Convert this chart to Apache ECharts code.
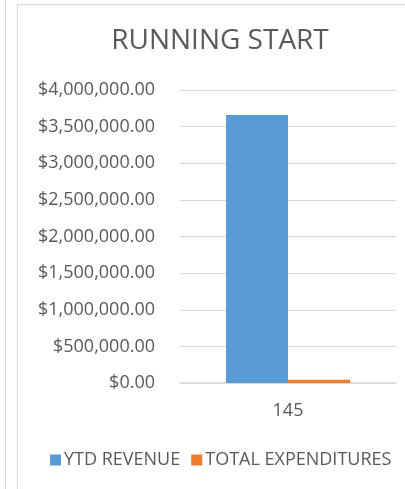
<!DOCTYPE html>
<html>
<head>
<meta charset="utf-8">
<script src="https://cdn.jsdelivr.net/npm/echarts@6/dist/echarts.min.js"></script>
<style>
  html, body { margin: 0; padding: 0; background: #fff; }
  #chart { width: 405px; height: 489px; }
</style>
</head>
<body>
<div id="chart"></div>
<script>
// chart values
const categories = ['145'];
const ytdRevenue = [3660000];
const totalExpenditures = [45000];
const seriesNames = ['YTD REVENUE', 'TOTAL EXPENDITURES'];

const fontFamily = '"Open Sans", "Noto Sans", sans-serif';
const textColor = '#595959';
const lineColor = '#d9d9d9';

const myChart = echarts.init(document.getElementById('chart'));

function money(v) {
    return '$' + v.toLocaleString('en-US', { minimumFractionDigits: 2, maximumFractionDigits: 2 });
}

const option = {
    animation: false,
    title: {
        text: 'RUNNING START',
        left: 215,
        textAlign: 'center',
        top: 22,
        textStyle: {
            color: textColor,
            fontFamily: fontFamily,
            fontSize: 28,
            fontWeight: 'normal'
        }
    },
    graphic: [
        { type: 'line', shape: { x1: 5.5, y1: 0, x2: 5.5, y2: 489 }, style: { stroke: lineColor, lineWidth: 1 } },
        { type: 'line', shape: { x1: 17.5, y1: 4, x2: 17.5, y2: 489 }, style: { stroke: lineColor, lineWidth: 1 } },
        { type: 'line', shape: { x1: 17, y1: 4.5, x2: 405, y2: 4.5 }, style: { stroke: lineColor, lineWidth: 1 } }
    ],
    legend: {
        data: seriesNames,
        left: 45,
        top: 446,
        itemWidth: 11,
        itemHeight: 11,
        itemGap: 11,
        icon: 'rect',
        textStyle: {
            color: textColor,
            fontFamily: fontFamily,
            fontSize: 18,
            padding: [0, 0, 0, -2]
        }
    },
    grid: {
        left: 180,
        right: 9,
        top: 90,
        bottom: 106,
        containLabel: false
    },
    xAxis: {
        type: 'category',
        data: categories,
        axisTick: { show: false },
        axisLine: { lineStyle: { color: lineColor, width: 1.5 } },
        axisLabel: {
            color: textColor,
            fontFamily: fontFamily,
            fontSize: 18,
            margin: 19
        }
    },
    yAxis: {
        type: 'value',
        min: 0,
        max: 4000000,
        interval: 500000,
        axisLine: { show: false },
        axisTick: { show: false },
        splitLine: { lineStyle: { color: lineColor, width: 1 } },
        axisLabel: {
            color: textColor,
            fontFamily: fontFamily,
            fontSize: 18,
            margin: 25,
            formatter: money
        }
    },
    series: [
        {
            name: seriesNames[0],
            type: 'bar',
            data: ytdRevenue,
            barWidth: 62,
            barGap: '0%',
            itemStyle: { color: '#5b9bd5' }
        },
        {
            name: seriesNames[1],
            type: 'bar',
            data: totalExpenditures,
            barWidth: 62,
            itemStyle: { color: '#ed7d31' }
        }
    ]
};

myChart.setOption(option);
</script>
</body>
</html>
